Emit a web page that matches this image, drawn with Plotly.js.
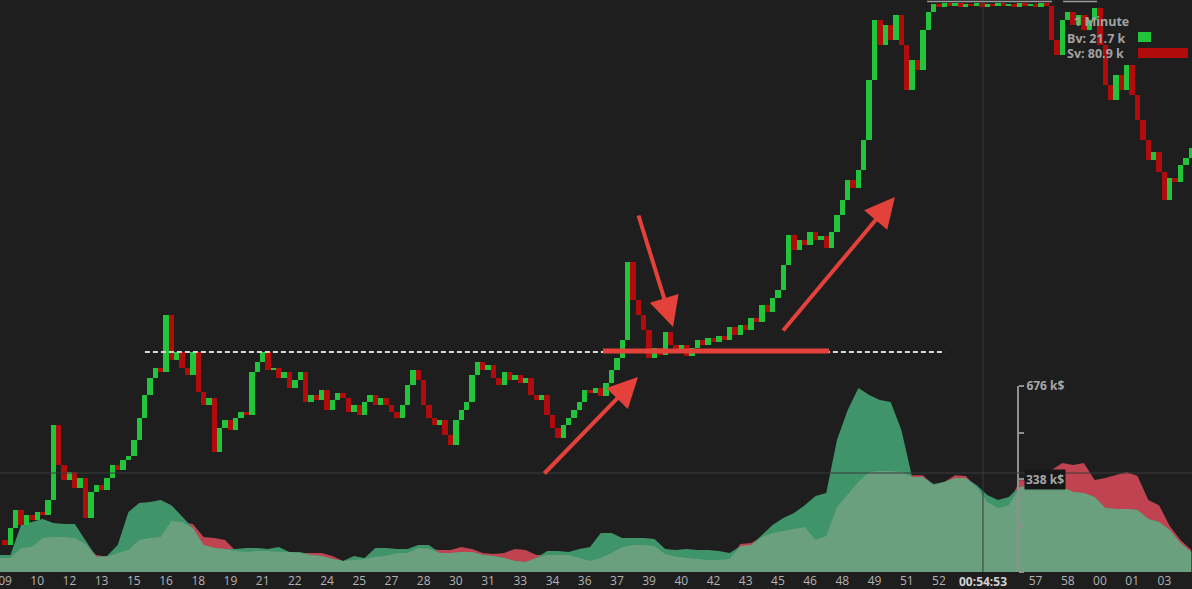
<!DOCTYPE html>
<html>
<head>
<meta charset="utf-8">
<script src="https://cdn.plot.ly/plotly-3.0.1.min.js"></script>
<style>
  html, body { margin: 0; padding: 0; background: #1e1e1e; }
  #chart { width: 1192px; height: 589px; }
</style>
</head>
<body>
<div id="chart"></div>
<script>
// ---------------- DATA ----------------
// 15-second price bars starting 00:09:05 (price units, arbitrary scale)
const candleStart = '2024-01-01 00:09:05';
const candleStepSec = 15;
const closes = [
  3.2,2.7,4.4,6.2,4.7,5.7,5.2,6.0,5.7,7.2,
  14.7,10.7,9.2,10.0,8.4,9.4,5.4,8.0,8.7,8.2,
  9.4,10.7,10.2,11.2,11.6,13.2,15.4,17.7,19.4,20.4,
  20.0,25.7,21.2,22.0,20.4,19.7,22.0,18.0,16.7,17.4,
  12.0,14.4,15.2,14.2,15.4,16.0,15.7,20.0,21.0,22.0,
  20.2,20.4,19.4,20.0,18.4,19.2,20.0,17.0,17.7,17.2,
  18.2,16.2,17.2,17.9,17.4,16.0,16.7,15.7,17.0,17.7,
  16.7,17.4,16.7,16.0,15.4,16.7,18.7,20.2,19.2,16.7,
  15.4,14.7,15.2,13.7,12.7,15.2,16.2,17.0,19.7,21.0,
  20.2,20.7,19.4,18.7,20.0,19.2,19.7,18.9,19.4,17.7,
  17.2,17.7,15.7,14.4,13.4,14.7,15.4,16.2,17.0,18.2,
  17.9,18.4,17.6,18.9,20.2,21.4,23.2,31.0,27.2,25.7,
  24.2,21.4,22.4,21.7,24.0,22.7,22.0,22.7,21.6,22.4,
  23.2,22.7,23.4,23.0,23.6,23.2,24.5,23.7,24.7,24.2,
  25.4,25.0,26.7,26.0,27.4,28.2,30.7,33.7,32.2,33.2,
  32.7,34.0,33.2,33.6,32.4,34.0,35.7,37.2,39.2,38.4,
  40.2,43.2,49.2,55.2,52.7,54.7,53.2,55.7,52.7,48.2,
  51.2,50.2,54.2,56.0,56.8,
  56.5,56.9,56.6,56.9,56.5,56.8,56.6,56.9,56.5,56.8,56.6,56.9,56.6,56.8,56.5,56.9,56.6,56.8,56.5,56.9,56.6,
  53.2,51.7,55.2,56.0,54.7,55.7,54.2,55.2,56.4,52.7,
  48.7,47.2,49.7,48.2,50.7,47.7,45.2,43.2,41.2,42.0,
  40.0,37.2,39.4,39.0,40.7,41.4,42.4
];

// 30-second volume samples (k$) starting 00:09:05
const volStart = '2024-01-01 00:09:05';
const volStepSec = 30;
const buyVol = [
  62,62,171,182,193,178,174,174,116,55,
  58,98,218,251,254,262,243,200,160,98,
  87,84,84,87,87,84,91,73,73,62,
  58,47,40,58,51,87,87,84,84,98,
  98,69,69,73,73,62,58,51,40,36,
  51,76,76,73,84,91,142,142,124,124,
  124,120,84,80,84,80,80,76,69,94,
  98,134,171,196,214,243,276,287,480,589,
  669,643,625,618,516,345,345,320,327,342,
  342,316,280,262,273,309,313,313,313,309,
  291,287,273,233,229,229,225,193,182,153,
  105,73
];
const sellVol = [
  51,51,87,91,124,127,127,124,102,62,
  55,69,80,116,124,127,185,182,174,127,
  124,116,76,73,76,76,73,73,69,69,
  69,58,40,44,47,55,58,69,69,87,
  84,80,80,91,84,69,65,69,84,80,
  62,62,62,62,51,40,51,69,91,98,
  98,94,65,55,51,47,44,44,47,102,
  105,127,142,149,156,164,116,131,236,280,
  327,363,367,367,363,352,352,316,327,352,
  349,309,254,233,243,334,331,360,371,396,
  389,396,334,342,352,363,349,262,243,167,
  116,80
];

// x-axis tick labels (every 90 s from 00:09:20)
const tickStart = '2024-01-01 00:09:20';
const tickStepSec = 90;
const tickLabels = ['09','10','12','13','15','16','18','19','21','22','24','25','27','28','30','31','33','34','36',
                    '37','39','40','42','43','45','46','48','49','51','52','54','55','57','58','00','01','03'];

// volume scale ticks
const volTickVals = [0, 169, 338, 507, 676];
const volTickText = ['', '', '', '', '676 k$'];
const volCursorLabel = '338 k$';
const volCursorValue = 338;

// legend panel
const timeframe = '1 Minute';
const legendNames = ['Bv', 'Sv'];
const legendValues = [21.7, 80.9];

// cursor time
const cursorTime = '2024-01-01 00:54:53';
const cursorLabel = '00:54:53';

// ---------------- HELPERS ----------------
function toMs(s) { return Date.parse(s.replace(' ', 'T') + 'Z'); }
function fmt(ms) { return new Date(ms).toISOString().replace('T', ' ').slice(0, 23); }

const c0 = toMs(candleStart);
const candleX = closes.map((_, i) => fmt(c0 + i * candleStepSec * 1000));
const opens = closes.map((c, i) => i === 0 ? c : closes[i - 1]);
const barLen = closes.map((c, i) => c - opens[i]);
const GREEN = '#21c53b', RED = '#b20b0c';
const barColors = closes.map((c, i) => c >= opens[i] ? GREEN : RED);

const v0 = toMs(volStart);
const volX = buyVol.map((_, i) => fmt(v0 + i * volStepSec * 1000));
const minVol = buyVol.map((b, i) => Math.min(b, sellVol[i]));

const t0 = toMs(tickStart);
const tickVals = tickLabels.map((_, i) => fmt(t0 + i * tickStepSec * 1000));
// labels hidden under the cursor time label
const cursorMs = toMs(cursorTime);
const tickText = tickLabels.map((l, i) => Math.abs(t0 + i * tickStepSec * 1000 - cursorMs) < 75000 ? '' : l);

const D = '2024-01-01 ';

// ---------------- TRACES ----------------
const traces = [
  { type: 'scatter', x: volX, y: sellVol, xaxis: 'x', yaxis: 'y', mode: 'lines', line: { width: 0, color: '#bf4351' },
    fill: 'tozeroy', fillcolor: '#bf4351', hoverinfo: 'skip' },
  { type: 'scatter', x: volX, y: buyVol, xaxis: 'x', yaxis: 'y', mode: 'lines', line: { width: 0, color: '#40946a' },
    fill: 'tozeroy', fillcolor: '#40946a', hoverinfo: 'skip' },
  { type: 'scatter', x: volX, y: minVol, xaxis: 'x', yaxis: 'y', mode: 'lines', line: { width: 0, color: '#6ba07f' },
    fill: 'tozeroy', fillcolor: '#6ba07f', hoverinfo: 'skip' },
  { type: 'bar', x: candleX, y: barLen, base: opens, xaxis: 'x', yaxis: 'y2', width: candleStepSec * 1000,
    marker: { color: barColors, line: { width: 0 } }, hoverinfo: 'skip' },
  { type: 'scatter', x: [], y: [], xaxis: 'x', yaxis: 'y3', mode: 'markers', hoverinfo: 'skip' },
  { type: 'bar', orientation: 'h', x: legendValues, y: legendNames, xaxis: 'x4', yaxis: 'y4', width: 0.62,
    marker: { color: [GREEN, '#b00a0a'], line: { width: 0 } }, hoverinfo: 'skip' }
];

// ---------------- LAYOUT ----------------
const FONT = 'Open Sans, Noto Sans, sans-serif';
const ARROW = '#e5413b';
const arrow = (tx, ty, hx, hy) => ({
  x: D + hx, y: hy, ax: D + tx, ay: ty, xref: 'x', yref: 'y2', axref: 'x', ayref: 'y2',
  text: '', showarrow: true, arrowhead: 2, arrowsize: 1.5, arrowwidth: 4, arrowcolor: ARROW, standoff: 0
});

const layout = {
  width: 1192, height: 589,
  margin: { l: 0, r: 0, t: 0, b: 17 },
  paper_bgcolor: '#1e1e1e', plot_bgcolor: 'rgba(0,0,0,0)',
  showlegend: false, hovermode: false, bargap: 0,
  font: { family: FONT },
  xaxis: {
    type: 'date', range: [D + '00:09:06', '2024-01-01 01:04:37.2'],
    tickvals: tickVals, ticktext: tickText, ticks: '', showgrid: false, zeroline: false, showline: false,
    ticklabeloverflow: 'allow',
    tickfont: { family: FONT, size: 12, color: '#b3b3b3' }, fixedrange: true
  },
  yaxis: { range: [0, 676 * 572 / 186], visible: false, domain: [0, 1], fixedrange: true },
  yaxis2: { range: [0, 57.2], overlaying: 'y', visible: false, fixedrange: true },
  yaxis3: {
    domain: [0, 186 / 572], range: [0, 676], anchor: 'free', position: 1018 / 1192, side: 'right',
    showline: true, linecolor: '#8f8f8f', linewidth: 2, ticks: 'outside', ticklen: 5, tickwidth: 2, tickcolor: '#8f8f8f',
    tickvals: volTickVals, ticktext: volTickText, showgrid: false, zeroline: false,
    tickfont: { family: FONT, size: 12, color: '#a6a6a6', weight: 'bold' }, fixedrange: true
  },
  xaxis4: { domain: [1138 / 1192, 1188 / 1192], range: [0, legendValues[1]], visible: false, anchor: 'y4', fixedrange: true },
  yaxis4: { domain: [1 - 61 / 572, 1 - 29 / 572], visible: false, type: 'category', autorange: 'reversed', anchor: 'x4', fixedrange: true },
  shapes: [
    // crosshair
    { type: 'line', xref: 'paper', x0: 0, x1: 1, yref: 'y2', y0: 9.9, y1: 9.9, line: { color: '#3a3a3a', width: 1 } },
    { type: 'line', xref: 'x', x0: cursorTime, x1: cursorTime, yref: 'paper', y0: 0, y1: 1, line: { color: '#3a3a3a', width: 1 } },
    // resistance dashed line
    { type: 'line', xref: 'x', yref: 'y2', x0: D + '00:15:51', x1: D + '00:53:07', y0: 22.0, y1: 22.0,
      line: { color: '#d6d6d6', width: 2, dash: '5px,3px' } },
    // red support line
    { type: 'line', xref: 'x', yref: 'y2', x0: D + '00:37:11', x1: D + '00:47:43', y0: 22.1, y1: 22.1,
      line: { color: ARROW, width: 5 } },
    // top range markers
    { type: 'line', xref: 'x', yref: 'y2', x0: D + '00:52:17', x1: D + '00:58:06', y0: 57.05, y1: 57.05,
      line: { color: '#9a9a9a', width: 1.5 } },
    { type: 'line', xref: 'x', yref: 'y2', x0: D + '00:58:37', x1: '2024-01-01 01:00:12', y0: 57.05, y1: 57.05,
      line: { color: '#9a9a9a', width: 1.5 } }
  ],
  annotations: [
    arrow('00:34:23', 9.7, '00:38:49', 19.5),
    arrow('00:38:49', 35.8, '00:40:27', 24.5),
    arrow('00:45:31', 24.0, '00:50:47', 37.5),
    { xref: 'paper', yref: 'paper', x: 1072 / 1192, y: 1 - 22 / 572, xanchor: 'left', yanchor: 'middle', showarrow: false,
      text: timeframe, font: { family: FONT, size: 12.5, color: '#a2a2a2', weight: 'bold' } },
    { xref: 'paper', yref: 'paper', x: 1065 / 1192, y: 1 - 38 / 572, xanchor: 'left', yanchor: 'middle', showarrow: false,
      text: legendNames[0] + ': ' + legendValues[0] + ' k', font: { family: FONT, size: 12.5, color: '#a2a2a2', weight: 'bold' } },
    { xref: 'paper', yref: 'paper', x: 1065 / 1192, y: 1 - 54 / 572, xanchor: 'left', yanchor: 'middle', showarrow: false,
      text: legendNames[1] + ': ' + legendValues[1] + ' k', font: { family: FONT, size: 12.5, color: '#a2a2a2', weight: 'bold' } },
    { xref: 'paper', yref: 'y3', x: 1024 / 1192, y: volCursorValue, xanchor: 'left', yanchor: 'middle', showarrow: false,
      text: volCursorLabel, bgcolor: '#171717', borderpad: 1,
      font: { family: FONT, size: 12, color: '#a6a6a6', weight: 'bold' } },
    { xref: 'x', yref: 'paper', x: cursorTime, y: 0, yanchor: 'middle', yshift: -9, showarrow: false,
      text: cursorLabel, bgcolor: '#1e1e1e', borderpad: 0,
      font: { family: FONT, size: 12, color: '#d2d2d2', weight: 'bold' } }
  ]
};

Plotly.newPlot('chart', traces, layout, { staticPlot: true, displayModeBar: false });
</script>
</body>
</html>
